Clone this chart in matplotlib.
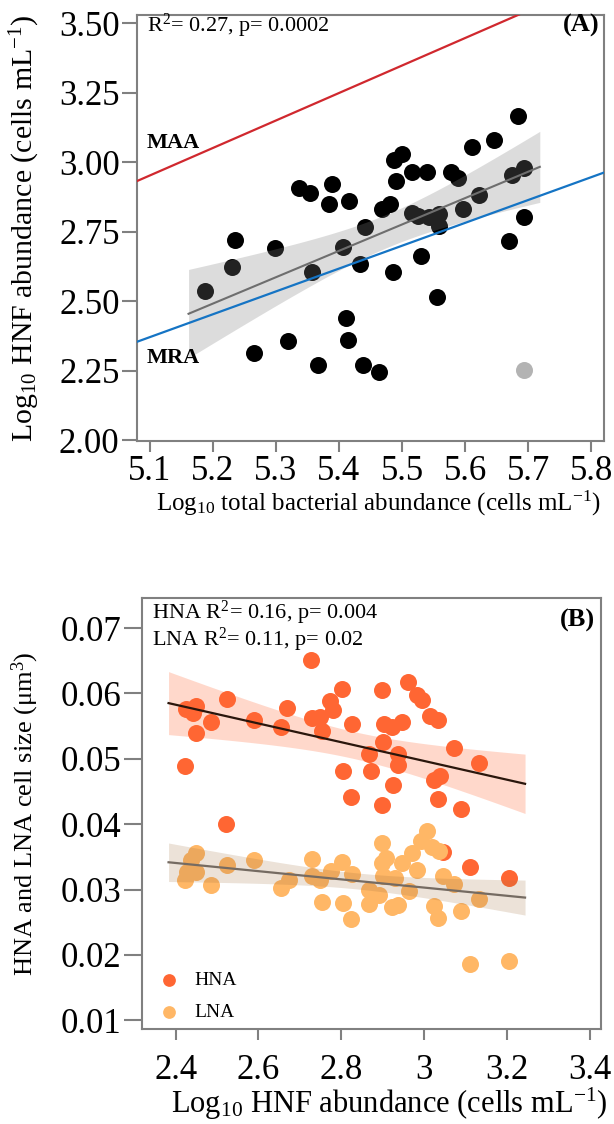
import numpy as np
import matplotlib
matplotlib.use("Agg")
import matplotlib.pyplot as plt

plt.rcParams['font.family'] = ['Liberation Serif', 'DejaVu Serif']
plt.rcParams['mathtext.fontset'] = 'custom'
plt.rcParams['mathtext.rm'] = 'Liberation Serif'
plt.rcParams['mathtext.it'] = 'Liberation Serif:italic'
plt.rcParams['mathtext.bf'] = 'Liberation Serif:bold'

# ---- panel A data: log10 bacteria vs log10 HNF ----
bact_log = [5.187, 5.230, 5.236, 5.265, 5.299, 5.320, 5.336, 5.354, 5.358, 5.367,
            5.389, 5.385, 5.407, 5.416, 5.411, 5.414, 5.433, 5.441, 5.438, 5.463,
            5.469, 5.481, 5.486, 5.488, 5.500, 5.491, 5.515, 5.515, 5.525, 5.530,
            5.539, 5.543, 5.555, 5.559, 5.559, 5.577, 5.588, 5.596, 5.611, 5.622,
            5.646, 5.670, 5.675, 5.683, 5.693, 5.693]
hnf_log = [2.535, 2.624, 2.719, 2.314, 2.690, 2.356, 2.906, 2.890, 2.605, 2.269,
           2.921, 2.850, 2.694, 2.861, 2.438, 2.361, 2.634, 2.767, 2.269, 2.244,
           2.833, 2.851, 2.605, 3.008, 3.029, 2.934, 2.966, 2.819, 2.806, 2.662,
           2.966, 2.803, 2.516, 2.815, 2.769, 2.966, 2.942, 2.833, 3.056, 2.882,
           3.080, 2.715, 2.954, 3.168, 2.978, 2.803]
outlier_bact = [5.694]
outlier_hnf = [2.254]

# model lines (slope, intercept)
maa_line = (0.99, -2.097)
mra_line = (0.823, -1.827)

# ---- panel B data: log10 HNF vs cell size ----
hna_x = [2.422, 2.426, 2.441, 2.450, 2.448, 2.485, 2.524, 2.521, 2.590, 2.655,
         2.670, 2.728, 2.729, 2.748, 2.754, 2.772, 2.781, 2.801, 2.805, 2.823,
         2.825, 2.867, 2.871, 2.898, 2.898, 2.901, 2.903, 2.923, 2.925, 2.936,
         2.936, 2.947, 2.961, 2.983, 2.996, 3.015, 3.023, 3.035, 3.035, 3.039,
         3.047, 3.072, 3.089, 3.112, 3.132, 3.205]
hna_size = [0.0489, 0.0577, 0.0570, 0.0581, 0.0539, 0.0556, 0.0592, 0.0400, 0.0560, 0.0549,
            0.0578, 0.0651, 0.0562, 0.0564, 0.0542, 0.0589, 0.0575, 0.0607, 0.0482, 0.0442,
            0.0553, 0.0507, 0.0481, 0.0605, 0.0430, 0.0525, 0.0553, 0.0548, 0.0460, 0.0507,
            0.0491, 0.0557, 0.0618, 0.0598, 0.0590, 0.0566, 0.0468, 0.0560, 0.0438, 0.0473,
            0.0358, 0.0517, 0.0423, 0.0335, 0.0494, 0.0318]
lna_x = [2.422, 2.428, 2.438, 2.449, 2.450, 2.486, 2.524, 2.590, 2.654, 2.673,
         2.729, 2.730, 2.748, 2.754, 2.775, 2.801, 2.805, 2.823, 2.825, 2.866,
         2.866, 2.891, 2.898, 2.898, 2.907, 2.902, 2.922, 2.931, 2.937, 2.946,
         2.963, 2.970, 2.983, 2.993, 3.008, 3.019, 3.023, 3.035, 3.036, 3.045,
         3.073, 3.089, 3.112, 3.132, 3.205]
lna_size = [0.0314, 0.0327, 0.0345, 0.0356, 0.0327, 0.0307, 0.0338, 0.0345, 0.0303, 0.0315,
            0.0347, 0.0321, 0.0315, 0.0281, 0.0328, 0.0342, 0.0280, 0.0255, 0.0324, 0.0299,
            0.0278, 0.0291, 0.0371, 0.0340, 0.0348, 0.0321, 0.0274, 0.0317, 0.0276, 0.0341,
            0.0298, 0.0356, 0.0330, 0.0374, 0.0390, 0.0365, 0.0275, 0.0257, 0.0359, 0.0321,
            0.0309, 0.0267, 0.0186, 0.0285, 0.0191]

a_xticks = [5.1, 5.2, 5.3, 5.4, 5.5, 5.6, 5.7, 5.8]
a_yticks = [2.00, 2.25, 2.50, 2.75, 3.00, 3.25, 3.50]
b_xticks = [2.4, 2.6, 2.8, 3.0, 3.2, 3.4]
b_yticks = [0.01, 0.02, 0.03, 0.04, 0.05, 0.06, 0.07]

SPINE = '#808080'


def fit_band(x, y, t=2.015):
    x = np.asarray(x)
    y = np.asarray(y)
    k, b = np.polyfit(x, y, 1)
    n = len(x)
    resid = y - (k * x + b)
    s = np.sqrt(np.sum(resid ** 2) / (n - 2))
    pad = 0.05 * (x.max() - x.min())
    xs = np.linspace(x.min() - pad, x.max() + pad, 100)
    se = s * np.sqrt(1.0 / n + (xs - x.mean()) ** 2 / np.sum((x - x.mean()) ** 2))
    fit = k * xs + b
    return xs, fit, fit - t * se, fit + t * se


def style_axes(ax, xlen, ylen):
    for sp in ax.spines.values():
        sp.set_color(SPINE)
        sp.set_linewidth(1.5)
    ax.tick_params(axis='both', colors=SPINE, width=1.5, labelcolor='black',
                   labelsize=25)
    ax.tick_params(axis='x', length=xlen, pad=2)
    ax.tick_params(axis='y', length=ylen, pad=2)


def place_labels(ax, xpos, ypos):
    ax.xaxis.set_label_coords(*xpos)
    ax.yaxis.set_label_coords(*ypos)
    ax.xaxis.label.set_va('center')
    ax.yaxis.label.set_va('center')


fig = plt.figure(figsize=(6.14, 11.24), dpi=100)

# ---------------- panel A ----------------
ax1 = fig.add_axes([0.2231, 0.6077, 0.7606, 0.3790])
ax1.scatter(bact_log, hnf_log, s=150, color='black', linewidths=0, zorder=2)
ax1.scatter(outlier_bact, outlier_hnf, s=150, color='#b3b3b3', linewidths=0, zorder=2)
xs, fit, lo, hi = fit_band(bact_log, hnf_log)
ax1.fill_between(xs, lo, hi, color='#808080', alpha=0.27, linewidth=0, zorder=3)
ax1.plot(xs, fit, color='#6e6e6e', lw=1.5, zorder=4)

ax1.set_xlim(5.08, 5.82)
ax1.set_ylim(1.997, 3.53)
xl = np.array(ax1.get_xlim())
ax1.plot(xl, maa_line[0] * xl + maa_line[1], color='#d0282e', lw=1.6, zorder=4)
ax1.plot(xl, mra_line[0] * xl + mra_line[1], color='#1574c4', lw=1.6, zorder=4)
ax1.set_xlim(5.08, 5.82)
ax1.set_ylim(1.997, 3.53)

ax1.text(0.02, 0.70, 'MAA', transform=ax1.transAxes, fontsize=16,
         fontweight='bold', va='center', ha='left')
ax1.text(0.02, 0.195, 'MRA', transform=ax1.transAxes, fontsize=16,
         fontweight='bold', va='center', ha='left')
ax1.text(0.021, 0.975, r'R$^{\mathrm{2}}$= 0.27, p= 0.0002', transform=ax1.transAxes,
         fontsize=16, va='center', ha='left')
ax1.text(0.99, 0.975, '(A)', transform=ax1.transAxes, fontsize=19,
         fontweight='bold', va='center', ha='right')

ax1.set_xticks(a_xticks)
ax1.set_xticklabels(['{:.1f}'.format(v) for v in a_xticks])
ax1.set_yticks(a_yticks)
ax1.set_yticklabels(['{:.2f}'.format(v) for v in a_yticks])
style_axes(ax1, 8, 10.5)
ax1.set_xlabel(r'Log$_{\mathrm{10}}$ total bacterial abundance (cells mL$^{\mathrm{-1}}$)',
               fontsize=18)
ax1.set_ylabel(r'Log$_{\mathrm{10}}$ HNF abundance (cells mL$^{\mathrm{-1}}$)',
               fontsize=21.5)
place_labels(ax1, (0.516, -0.146), (-0.24, 0.5))

# ---------------- panel B ----------------
ax2 = fig.add_axes([0.2308, 0.0842, 0.7476, 0.3837])
ax2.scatter(hna_x, hna_size, s=150, color='#ff6633', linewidths=0, zorder=2, label='HNA')
xs, fit, lo, hi = fit_band(hna_x, hna_size)
ax2.fill_between(xs, lo, hi, color='#ff6633', alpha=0.25, linewidth=0, zorder=3)
ax2.plot(xs, fit, color='#2a160c', lw=1.6, zorder=4)

ax2.scatter(lna_x, lna_size, s=150, color='#ffb766', linewidths=0, zorder=5, label='LNA')
xs, fit, lo, hi = fit_band(lna_x, lna_size)
ax2.fill_between(xs, lo, hi, color='#a0703c', alpha=0.2, linewidth=0, zorder=6)
ax2.plot(xs, fit, color='#756b62', lw=1.6, zorder=7)

ax2.set_xlim(2.318, 3.427)
ax2.set_ylim(0.0086, 0.0746)
ax2.set_xticks(b_xticks)
ax2.set_xticklabels(['{:g}'.format(v) for v in b_xticks])
ax2.set_yticks(b_yticks)
ax2.set_yticklabels(['{:.2f}'.format(v) for v in b_yticks])
style_axes(ax2, 8, 13)
ax2.tick_params(axis='x', pad=10)

ax2.text(0.022, 0.966, r'HNA R$^{\mathrm{2}}$= 0.16, p= 0.004', transform=ax2.transAxes,
         fontsize=16, va='center', ha='left')
ax2.text(0.022, 0.903, r'LNA R$^{\mathrm{2}}$= 0.11, p= 0.02', transform=ax2.transAxes,
         fontsize=16, va='center', ha='left')
ax2.text(0.988, 0.949, '(B)', transform=ax2.transAxes, fontsize=19,
         fontweight='bold', va='center', ha='right')

ax2.legend(loc='lower left', bbox_to_anchor=(-0.026, -0.0255), frameon=False, fontsize=14,
           markerscale=0.75, handletextpad=0.3, labelspacing=0.75, borderaxespad=0.6)

ax2.set_xlabel(r'Log$_{\mathrm{10}}$ HNF abundance (cells mL$^{\mathrm{-1}}$)',
               fontsize=22)
ax2.set_ylabel(r'HNA and LNA cell size ($\mathrm{\mu}$m$^{\mathrm{3}}$)',
               fontsize=19)
place_labels(ax2, (0.54, -0.172), (-0.254, 0.5))

fig.savefig('out.png', dpi=100)
